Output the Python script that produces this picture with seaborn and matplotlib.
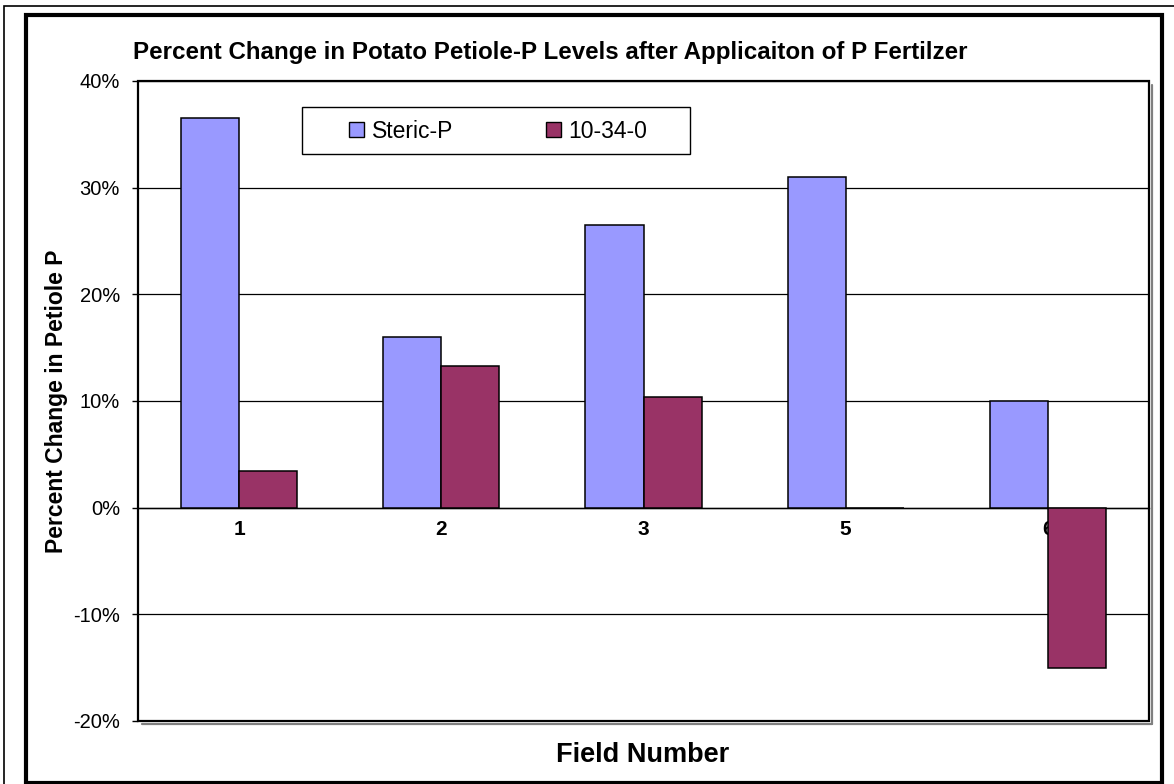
import numpy as np
import pandas as pd
import matplotlib.pyplot as plt
import seaborn as sns
from matplotlib.patches import Rectangle, Patch
from matplotlib.lines import Line2D
from matplotlib.ticker import FuncFormatter

# data (percent change)
fields = ['1', '2', '3', '5', '6']
steric_p = [36.5, 16.0, 26.5, 31.0, 10.0]
npk_10_34_0 = [3.4, 13.3, 10.4, 0.0, -15.0]
series_names = ['Steric-P', '10-34-0']
colors = ['#9999FF', '#993366']
y_ticks = [-20, -10, 0, 10, 20, 30, 40]

df = pd.DataFrame({
    'field': fields * 2,
    'change': steric_p + npk_10_34_0,
    'product': [series_names[0]] * len(fields) + [series_names[1]] * len(fields),
})

sns.set_style('white')
plt.rcParams['font.family'] = ['Liberation Sans', 'DejaVu Sans']
plt.rcParams.update({'text.color': 'black', 'axes.labelcolor': 'black',
                     'xtick.color': 'black', 'ytick.color': 'black'})

W, H = 1174, 784
fig = plt.figure(figsize=(W / 100, H / 100), dpi=100)

def fx(px):
    return px / W

def fy(py):
    return 1 - py / H

ax = fig.add_axes([fx(138), fy(721), fx(1149) - fx(138), fy(81) - fy(721)])
sns.barplot(data=df, x='field', y='change', hue='product', order=fields,
            hue_order=series_names, palette=colors, saturation=1, width=0.574,
            edgecolor='black', linewidth=1.1, legend=False, ax=ax, zorder=3)

ax.set_xlim(-0.5, len(fields) - 0.5)
ax.set_ylim(-20, 40)
ax.set_yticks(y_ticks)
ax.yaxis.set_major_formatter(FuncFormatter(lambda v, p: f'{v:.0f}%'))
ax.yaxis.grid(True, color='black', linewidth=0.9, zorder=0)
ax.set_axisbelow(True)
ax.set_xlabel('')
ax.set_ylabel('')

# x axis sits on the 0% line, ticks between categories
for s in ['top', 'right', 'left']:
    ax.spines[s].set_visible(False)
ax.spines['bottom'].set_position(('data', 0))
ax.spines['bottom'].set_color('black')
ax.spines['bottom'].set_linewidth(1.0)
ax.set_xticks(np.arange(0.5, len(fields) - 1, 1.0), minor=True)
ax.tick_params(axis='x', which='major', length=0, pad=9, labelsize=15, labelcolor='black')
ax.tick_params(axis='x', which='minor', length=4, width=1, direction='out', color='black')
for lab in ax.get_xticklabels():
    lab.set_fontweight('bold')
ax.tick_params(axis='y', length=4, width=1, direction='out', color='black',
               left=True, pad=9, labelsize=14.5, labelcolor='black')

# plot area frame + shadow
ax.add_patch(Rectangle((0, 0), 1, 1, transform=ax.transAxes, fill=False,
                       edgecolor='black', linewidth=1.6, clip_on=False, zorder=4))
fig.add_artist(Line2D([fx(1151.5), fx(1151.5)], [fy(85), fy(723.5)], color='#808080', lw=1.6))
fig.add_artist(Line2D([fx(142), fx(1151.5)], [fy(723.5), fy(723.5)], color='#808080', lw=1.6))

# chart borders
fig.add_artist(Rectangle((fx(4), fy(800)), fx(1200) - fx(4), fy(6) - fy(800),
                         transform=fig.transFigure, fill=False, edgecolor='black', lw=1.2))
fig.add_artist(Rectangle((fx(26), fy(783)), fx(1162) - fx(26), fy(15) - fy(783),
                         transform=fig.transFigure, fill=False, edgecolor='black', lw=3))

# legend box
fig.add_artist(Rectangle((fx(302), fy(154)), fx(690) - fx(302), fy(107) - fy(154),
                         transform=fig.transFigure, facecolor='white', edgecolor='black', lw=1, zorder=4))
handles = [Patch(facecolor=c, edgecolor='black', linewidth=1) for c in colors]
fig.legend(handles, series_names, loc='center left', bbox_to_anchor=(fx(349), fy(131)),
           ncol=2, frameon=False, borderpad=0, borderaxespad=0, fontsize=16.5,
           handlelength=0.65, handleheight=0.65, handletextpad=0.35, columnspacing=4.03)

fig.text(fx(550), fy(52), 'Percent Change in Potato Petiole-P Levels after Applicaiton of P Fertilzer',
         ha='center', va='center', fontsize=17.4, fontweight='bold')
fig.text(fx(57), fy(401), 'Percent Change in Petiole P', rotation=90,
         ha='center', va='center', fontsize=16.5, fontweight='bold')
fig.text(fx(643), fy(755), 'Field Number', ha='center', va='center',
         fontsize=19.5, fontweight='bold')

fig.savefig('out.png', dpi=100)
